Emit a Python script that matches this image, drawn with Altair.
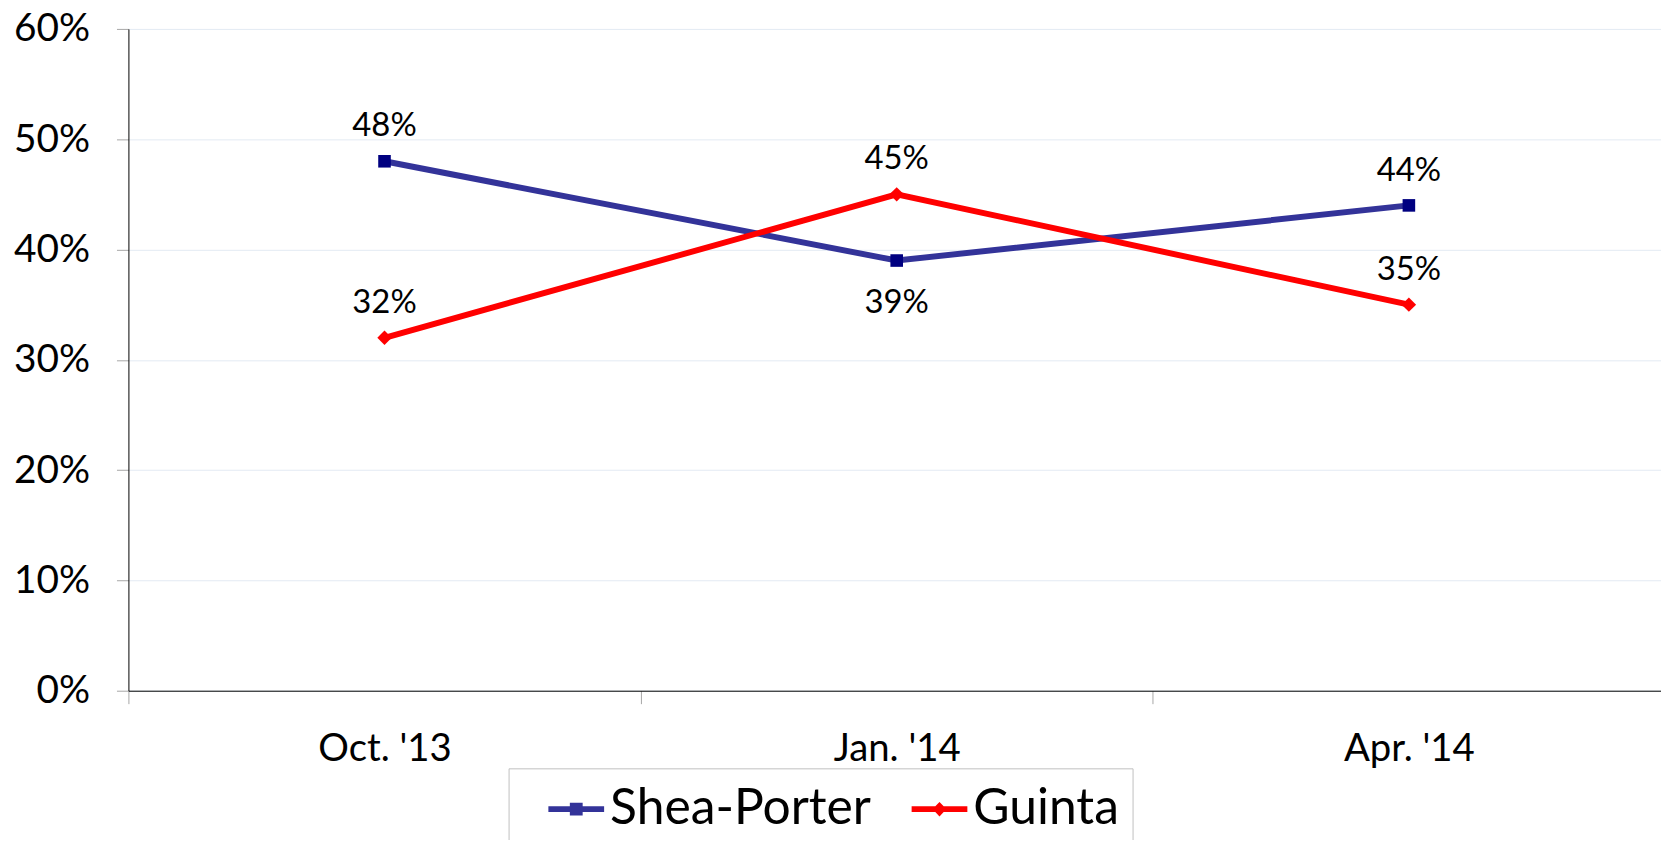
import altair as alt
import pandas as pd

# ---- data ----
dates = ["Oct. '13", "Jan. '14", "Apr. '14"]
series = ["Shea-Porter", "Guinta"]
shea_porter = [0.48, 0.39, 0.44]
guinta = [0.32, 0.45, 0.35]
y_ticks = [0.0, 0.1, 0.2, 0.3, 0.4, 0.5, 0.6]

df = pd.DataFrame({
    "date": dates * 2,
    "series": [series[0]] * len(dates) + [series[1]] * len(dates),
    "value": shea_porter + guinta,
})

FONT = "Lato"
LINE_COLORS = ["#333399", "#FF0000"]
MARKER_COLORS = ["#000080", "#FF0000"]
SHEA_SYMBOL = "M-1,-0.1H-0.23V-0.23H0.23V-0.1H1V0.1H0.23V0.23H-0.23V0.1H-1Z"
GUINTA_SYMBOL = "M-1,-0.1H-0.15L0,-0.26L0.15,-0.1H1V0.1H0.15L0,0.26L-0.15,0.1H-1Z"

x_enc = alt.X(
    "date:N", sort=dates,
    scale=alt.Scale(domain=dates, paddingInner=0, paddingOuter=0, range=[0, 1544]),
    axis=alt.Axis(title=None, labelAngle=0, tickBand="extent", grid=False,
                  domainColor="#000000", domainWidth=1, tickColor="#A6A6A6",
                  tickSize=13, tickWidth=1, labelFont=FONT, labelFontSize=38.5,
                  labelColor="#000000", labelPadding=27),
)
y_enc = alt.Y(
    "value:Q",
    scale=alt.Scale(domain=[0, 0.6], nice=False, zero=True),
    axis=alt.Axis(title=None, values=y_ticks, format=".0%", grid=True,
                  gridColor="#E3EAF3", gridWidth=1, domainColor="#000000",
                  domainWidth=1, tickColor="#A6A6A6", tickSize=12, tickWidth=1,
                  labelFont=FONT, labelFontSize=39, labelColor="#000000",
                  labelPadding=27),
)

legend = alt.Legend(
    title=None, orient="none", legendX=382, legendY=743, direction="horizontal",
    labelFont=FONT, labelFontSize=50, labelColor="#000000", labelOffset=6,
    labelLimit=500, symbolSize=3136, symbolOffset=27, symbolStrokeWidth=0,
    padding=13, strokeColor="#BFBFBF", fillColor="#FFFFFF", columnPadding=13,
)

lines = alt.Chart(df).mark_line(strokeWidth=6).encode(
    x=x_enc, y=y_enc,
    color=alt.Color("series:N", scale=alt.Scale(domain=series, range=LINE_COLORS), legend=None),
)

points = alt.Chart(df).mark_point(filled=True, opacity=1).encode(
    x=x_enc, y=y_enc,
    color=alt.Color("series:N", scale=alt.Scale(domain=series, range=MARKER_COLORS), legend=None),
    shape=alt.Shape("series:N", scale=alt.Scale(domain=series, range=["square", "diamond"]), legend=None),
    size=alt.Size("series:N", scale=alt.Scale(domain=series, range=[160, 210]), legend=None),
)

is_below = (alt.datum.series == "Shea-Porter") & (alt.datum.date == "Jan. '14")

labels_above = alt.Chart(df).transform_filter(~is_below).mark_text(
    font=FONT, fontSize=33, color="#000000", align="center", baseline="alphabetic", dy=-25
).encode(x=x_enc, y=y_enc, text=alt.Text("value:Q", format=".0%"))

labels_below = alt.Chart(df).transform_filter(is_below).mark_text(
    font=FONT, fontSize=33, color="#000000", align="center", baseline="alphabetic", dy=53
).encode(x=x_enc, y=y_enc, text=alt.Text("value:Q", format=".0%"))

legend_layer = alt.Chart(df).transform_filter("false").mark_point(filled=True, opacity=1).encode(
    x=x_enc, y=y_enc,
    color=alt.Color("series:N", scale=alt.Scale(domain=series, range=LINE_COLORS), legend=legend),
    shape=alt.Shape("series:N", scale=alt.Scale(domain=series, range=[SHEA_SYMBOL, GUINTA_SYMBOL]), legend=legend),
)

chart = alt.layer(lines, points, labels_above, labels_below, legend_layer).resolve_scale(
    color="independent", shape="independent", size="independent"
).properties(
    width=1540, height=665,
    autosize=alt.AutoSizeParams(type="none"),
    padding={"left": 121, "top": 19, "right": 0, "bottom": 148},
    background="#FFFFFF",
).configure_view(stroke=None)

chart.save("out.html", embed_options={"renderer": "svg", "actions": False})
